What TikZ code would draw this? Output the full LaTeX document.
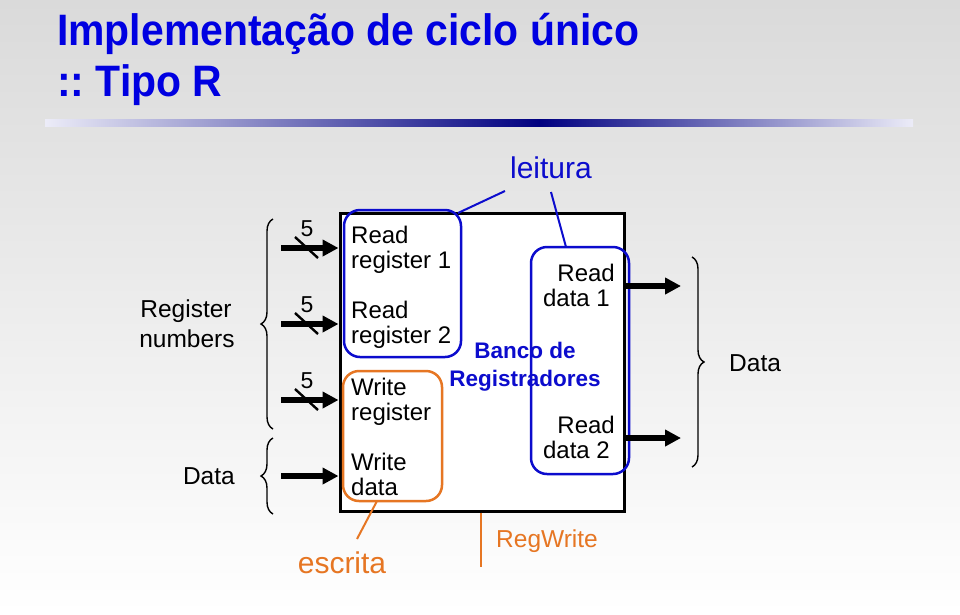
\documentclass[tikz,border=0pt]{standalone}
\usepackage{fontspec}
\setmainfont{Liberation Sans}
\usetikzlibrary{arrows.meta,decorations.pathreplacing}
\definecolor{ttlblue}{RGB}{0,0,225}
\definecolor{bxblue}{RGB}{12,12,205}
\definecolor{org}{RGB}{230,118,35}
\definecolor{navy}{RGB}{0,0,128}
\definecolor{barend}{RGB}{236,236,248}
\definecolor{bgtop}{RGB}{218,218,218}
\begin{document}
\begin{tikzpicture}[x=1pt,y=-1pt,
  lbl/.style={font=\fontsize{24}{28}\selectfont, inner sep=0pt, anchor=base west},
  lblr/.style={lbl, anchor=base east},
  numlbl/.style={font=\fontsize{23}{26}\selectfont, inner sep=0pt, anchor=base},
  bigarrow/.style={line width=5.5pt, -{Triangle[length=16pt,width=16pt]}},
  slashline/.style={line width=2.4pt},
  bracestyle/.style={line width=1.4pt, decorate, decoration={brace, amplitude=12pt}},
  rndbox/.style={draw, line width=2.5pt, rounded corners=16pt, inner sep=0pt},
  callout/.style={line width=2pt}
]
\useasboundingbox (0,0) rectangle (960,614);
\shade[top color=bgtop, bottom color=white] (0,0) rectangle (960,614);
% gradient bar
\shade[left color=barend, right color=navy] (45,119) rectangle (540,126);
\shade[left color=navy, right color=barend] (540,119) rectangle (913,126);
% title
\node[anchor=base west, inner sep=0pt, text=ttlblue, font=\fontsize{44}{50}\selectfont\bfseries] (t1) at (57,45) {\scalebox{0.93}[1]{Implementação de ciclo único}};
\node[anchor=base west, inner sep=0pt, text=ttlblue, font=\fontsize{44}{50}\selectfont\bfseries] (t2) at (57,96) {\scalebox{0.93}[1]{::~Tipo R}};

% register file box
\node[draw, line width=3pt, fill=white, minimum width=284pt, minimum height=298pt, inner sep=0pt] (rf) at (482,362) {};

% labels inside
\node[lbl] (rr1a) at (351,243) {Read};
\node[lbl] (rr1b) at (351,268) {register 1};
\node[lbl] (rr2a) at (351,318) {Read};
\node[lbl] (rr2b) at (351,343) {register 2};
\node[lbl] (wra) at (351,395) {Write};
\node[lbl] (wrb) at (351,420) {register};
\node[lbl] (wda) at (351,470) {Write};
\node[lbl] (wdb) at (351,495) {data};
\node[lblr] (rd1a) at (615,281) {Read};
\node[lblr] (rd1b) at (610,306) {data 1};
\node[lblr] (rd2a) at (615,433) {Read};
\node[lblr] (rd2b) at (610,458) {data 2};
\node[anchor=base, inner sep=0pt, text=bxblue, font=\fontsize{22.5}{26}\selectfont\bfseries] (bn1) at (525,358) {Banco de};
\node[anchor=base, inner sep=0pt, text=bxblue, font=\fontsize{22.5}{26}\selectfont\bfseries] (bn2) at (525,386) {Registradores};

% highlight boxes
\node[rndbox, draw=bxblue, minimum width=117pt, minimum height=147pt] (hb1) at (402.5,283.5) {};
\node[rndbox, draw=org, minimum width=99pt, minimum height=130pt] (ho) at (392.5,436) {};
\node[rndbox, draw=bxblue, minimum width=98pt, minimum height=227pt] (hb2) at (580,360.5) {};

% leitura
\node[anchor=base, inner sep=0pt, text=bxblue, font=\fontsize{30}{34}\selectfont] (leit) at (551,178) {leitura};
\coordinate (l1) at (505,191);
\coordinate (l1b) at (458,213);
\coordinate (l2) at (551,192);
\coordinate (l2b) at (566,247);
\draw[callout, bxblue] (l1b) -- (l1);
\draw[callout, bxblue] (l2) -- (l2b);

% escrita
\node[anchor=base, inner sep=0pt, text=org, font=\fontsize{30}{34}\selectfont] (escr) at (342,573) {escrita};
\coordinate (e1) at (377,501);
\coordinate (e2) at (357,539);
\draw[callout, org] (e1) -- (e2);

% RegWrite
\coordinate (rw) at (481,567);
\draw[callout, org] (rw |- rf.south) -- (rw);
\node[anchor=base west, inner sep=0pt, text=org, font=\fontsize{24.5}{28}\selectfont] (rwl) at (496,547) {RegWrite};

% input arrows
\coordinate (in1) at (281,248);
\coordinate (in2) at (281,324);
\coordinate (in3) at (281,400);
\coordinate (in4) at (281,476);
\draw[bigarrow] (in1) -- (in1 -| rf.west);
\draw[bigarrow] (in2) -- (in2 -| rf.west);
\draw[bigarrow] (in3) -- (in3 -| rf.west);
\draw[bigarrow] (in4) -- (in4 -| rf.west);
% bus slashes and widths
\coordinate (s1a) at (295,237); \coordinate (s1b) at (318,258);
\coordinate (s2a) at (295,313); \coordinate (s2b) at (318,334);
\coordinate (s3a) at (295,389); \coordinate (s3b) at (318,410);
\draw[slashline] (s1a) -- (s1b);
\draw[slashline] (s2a) -- (s2b);
\draw[slashline] (s3a) -- (s3b);
\node[numlbl] (n1) at (307,236) {5};
\node[numlbl] (n2) at (307,312) {5};
\node[numlbl] (n3) at (307,388) {5};

% output arrows
\coordinate (o1) at (681,286);
\coordinate (o2) at (681,438);
\draw[bigarrow] (o1 -| rf.east) -- (o1);
\draw[bigarrow] (o2 -| rf.east) -- (o2);

% braces
\coordinate (bl1a) at (273,429); \coordinate (bl1b) at (273,219);
\coordinate (bl2a) at (273,514); \coordinate (bl2b) at (273,438);
\coordinate (br1a) at (692,257); \coordinate (br1b) at (692,467);
\draw[bracestyle] (bl1a) -- (bl1b);
\draw[bracestyle] (bl2a) -- (bl2b);
\draw[bracestyle] (br1a) -- (br1b);
\node[anchor=base, inner sep=0pt, font=\fontsize{24.5}{28}\selectfont] (regn1) at (186,317) {Register};
\node[anchor=base, inner sep=0pt, font=\fontsize{24.5}{28}\selectfont] (regn2) at (187,347) {numbers};
\node[anchor=base east, inner sep=0pt, font=\fontsize{24.5}{28}\selectfont] (dl) at (235,484) {Data};
\node[anchor=base west, inner sep=0pt, font=\fontsize{24.5}{28}\selectfont] (dr) at (729,371) {Data};
\end{tikzpicture}
\end{document}
